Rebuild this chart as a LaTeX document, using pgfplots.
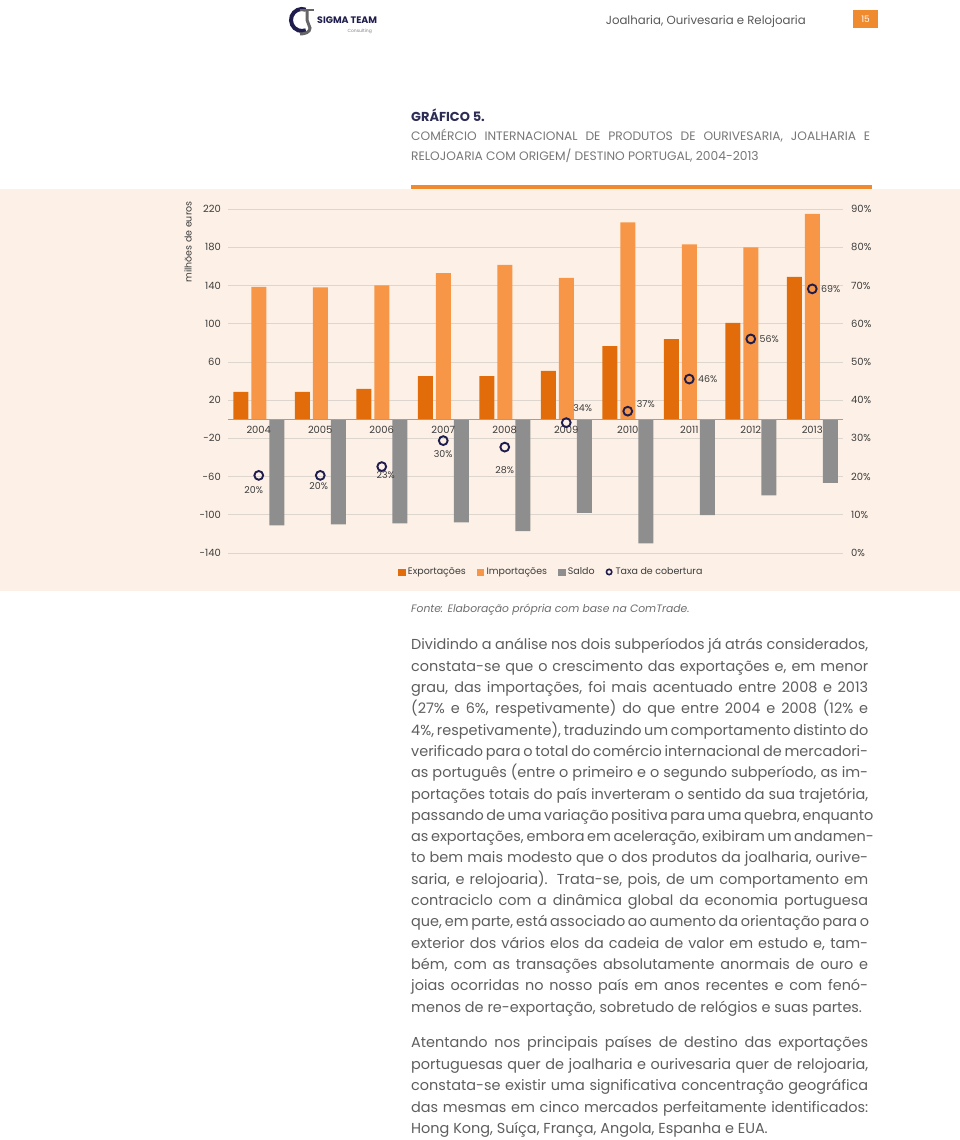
\documentclass[border=0pt]{standalone}
\usepackage{pgfplots}
\pgfplotsset{compat=1.18}
\usepackage{fontspec}
\setmainfont{Poppins}
\definecolor{expc}{HTML}{E36C0A}
\definecolor{impc}{HTML}{F79646}
\definecolor{salc}{HTML}{8E8E8E}
\definecolor{panel}{HTML}{FDF1E7}
\definecolor{navy}{HTML}{1F1D4D}
\definecolor{txt}{HTML}{3C3C3C}
\definecolor{bodyc}{HTML}{5E5E5E}
\definecolor{rulec}{HTML}{F08A2E}
\definecolor{gridc}{HTML}{DDD6CF}
\newcommand\bodyfont{\fontsize{14.5}{21.3}\selectfont}
\newcommand\BL[2]{\node[anchor=base west, inner sep=0pt, font=\bodyfont, text=bodyc] at (411,#1) {\makebox[457bp][s]{#2}};}
\newcommand\BLL[2]{\node[anchor=base west, inner sep=0pt, font=\bodyfont, text=bodyc] at (411,#1) {#2};}
\begin{document}
\begin{tikzpicture}[x=1bp,y=1bp]
\fill[white] (0,0) rectangle (960,1140);
% header
\draw[navy, line width=4bp] (302,1120) ++(70:11) arc (70:290:11);
\draw[gray!80!black, line width=2.5bp] (300,1130) -- (314,1130);
\draw[gray!80!black, line width=3bp] (307,1130) -- (307,1120) to[out=-90,in=90] (310,1112) to[out=-90,in=0] (300,1106);
\node[anchor=west, inner sep=0pt, font=\bfseries\fontsize{9.5}{11}\selectfont, text=navy] at (317,1120) {SIGMA TEAM};
\node[anchor=east, inner sep=0pt, font=\fontsize{4.5}{5}\selectfont, text=gray] at (372,1109) {Consulting};
\node[anchor=base east, inner sep=0pt, font=\fontsize{11.8}{14}\selectfont, text=txt!85] at (806,1115) {Joalharia, Ourivesaria e Relojoaria};
\fill[rulec] (853,1112) rectangle (878,1130);
\node[font=\fontsize{9}{10}\selectfont, text=white] at (865.5,1121) {15};
% title
\node[anchor=base west, inner sep=0pt, font=\bfseries\fontsize{13}{15}\selectfont, text=navy!85!gray] at (411,1018.5) {GRÁFICO 5.};
\node[anchor=base west, inner sep=0pt, font=\fontsize{12.3}{14}\selectfont, text=txt!70] at (411,999.5) {\makebox[459bp][s]{COMÉRCIO INTERNACIONAL DE PRODUTOS DE OURIVESARIA, JOALHARIA E}};
\node[anchor=base west, inner sep=0pt, font=\fontsize{12.3}{14}\selectfont, text=txt!70] at (411,979.5) {RELOJOARIA COM ORIGEM/ DESTINO PORTUGAL, 2004-2013};
\fill[panel] (0,549) rectangle (960,951);
\draw[rulec, line width=4bp] (411,953) -- (872,953);
\node[rotate=90, font=\fontsize{9.5}{11}\selectfont, text=txt] at (188,898) {milhões de euros};
% left axis: values in millions of euros
\begin{axis}[at={(228bp,587bp)}, anchor=south west, scale only axis,
  width=615bp, height=344bp,
  xmin=-0.5, xmax=9.5, ymin=-140, ymax=220,
  ytick={-140,-100,-60,-20,20,60,100,140,180,220},
  yticklabels={-140,-100,-60,-20,20,60,100,140,180,220},
  xtick=\empty, axis line style={draw=none}, major tick length=0pt,
  ymajorgrids, grid style={gridc, line width=0.7bp},
  yticklabel style={inner sep=0pt, xshift=-7bp, font=\fontsize{10}{12}\selectfont, text=txt},
  ybar=3bp, bar width=15bp, clip=false]
\addplot[fill=expc, draw=none] coordinates {(0,28.6) (1,28.6) (2,31.7) (3,45) (4,45) (5,50.6) (6,76.4) (7,83.8) (8,100.8) (9,149)};
\addplot[fill=impc, draw=none] coordinates {(0,138.5) (1,138) (2,140) (3,153) (4,161.6) (5,148) (6,206) (7,183) (8,179.8) (9,215)};
\addplot[fill=salc, draw=none] coordinates {(0,-111) (1,-110) (2,-109) (3,-108) (4,-117) (5,-98) (6,-130) (7,-100.5) (8,-79.6) (9,-66.7)};
\draw[gray!75, line width=0.8bp] (axis cs:-0.5,0) -- (axis cs:9.5,0);
\node[font=\fontsize{10}{12}\selectfont, text=txt, yshift=-11bp] at (axis cs:0,0) {2004};
\node[font=\fontsize{10}{12}\selectfont, text=txt, yshift=-11bp] at (axis cs:1,0) {2005};
\node[font=\fontsize{10}{12}\selectfont, text=txt, yshift=-11bp] at (axis cs:2,0) {2006};
\node[font=\fontsize{10}{12}\selectfont, text=txt, yshift=-11bp] at (axis cs:3,0) {2007};
\node[font=\fontsize{10}{12}\selectfont, text=txt, yshift=-11bp] at (axis cs:4,0) {2008};
\node[font=\fontsize{10}{12}\selectfont, text=txt, yshift=-11bp] at (axis cs:5,0) {2009};
\node[font=\fontsize{10}{12}\selectfont, text=txt, yshift=-11bp] at (axis cs:6,0) {2010};
\node[font=\fontsize{10}{12}\selectfont, text=txt, yshift=-11bp] at (axis cs:7,0) {2011};
\node[font=\fontsize{10}{12}\selectfont, text=txt, yshift=-11bp] at (axis cs:8,0) {2012};
\node[font=\fontsize{10}{12}\selectfont, text=txt, yshift=-11bp] at (axis cs:9,0) {2013};
\end{axis}
% right axis: coverage rate
\begin{axis}[at={(228bp,587bp)}, anchor=south west, scale only axis,
  width=615bp, height=344bp,
  xmin=-0.5, xmax=9.5, ymin=0, ymax=90,
  ytick={0,10,...,90},
  yticklabels={0\%,10\%,20\%,30\%,40\%,50\%,60\%,70\%,80\%,90\%},
  yticklabel pos=right,
  xtick=\empty, axis line style={draw=none}, major tick length=0pt,
  yticklabel style={inner sep=0pt, xshift=8bp, font=\fontsize{10}{12}\selectfont, text=txt},
  clip=false,
  legend columns=4,
  legend style={draw=none, fill=none, inner sep=0pt, at={(axis description cs:0.2764,-0.0552)}, anchor=west,
    font=\fontsize{9.5}{11}\selectfont, text=txt,
    /tikz/every even column/.append style={column sep=9bp},
    /tikz/every odd column/.append style={column sep=1bp}},
  legend cell align=left]
\addlegendimage{legend image code/.code={\fill[expc] (0,-3.2bp) rectangle (6.4bp,3.2bp);}}
\addlegendentry{Exportações}
\addlegendimage{legend image code/.code={\fill[impc] (0,-3.2bp) rectangle (6.4bp,3.2bp);}}
\addlegendentry{Importações}
\addlegendimage{legend image code/.code={\fill[salc] (0,-3.2bp) rectangle (6.4bp,3.2bp);}}
\addlegendentry{Saldo}
\addlegendimage{legend image code/.code={\draw[navy, line width=1.6bp] (3.2bp,0) circle (2.7bp);}}
\addlegendentry{Taxa de cobertura}
\addplot[only marks, mark=o, mark size=4.4bp, mark options={draw=navy, line width=1.9bp}, forget plot]
  coordinates {(0,20.3) (1,20.3) (2,22.6) (3,29.4) (4,27.7) (5,34.1) (6,37.1) (7,45.5) (8,56.0) (9,69.1)};
\node[font=\fontsize{9.5}{11}\selectfont, text=txt, xshift=-5bp, yshift=-15bp] at (axis cs:0,20.3) {20\%};
\node[font=\fontsize{9.5}{11}\selectfont, text=txt, xshift=-1.5bp, yshift=-11bp] at (axis cs:1,20.3) {20\%};
\node[font=\fontsize{9.5}{11}\selectfont, text=txt, xshift=4bp, yshift=-8bp] at (axis cs:2,22.6) {23\%};
\node[font=\fontsize{9.5}{11}\selectfont, text=txt, yshift=-13bp] at (axis cs:3,29.4) {30\%};
\node[font=\fontsize{9.5}{11}\selectfont, text=txt, yshift=-23bp] at (axis cs:4,27.7) {28\%};
\node[font=\fontsize{9.5}{11}\selectfont, text=txt, xshift=16.5bp, yshift=15bp] at (axis cs:5,34.1) {34\%};
\node[font=\fontsize{9.5}{11}\selectfont, text=txt, xshift=18bp, yshift=7bp] at (axis cs:6,37.1) {37\%};
\node[font=\fontsize{9.5}{11}\selectfont, text=txt, xshift=18.5bp] at (axis cs:7,45.5) {46\%};
\node[font=\fontsize{9.5}{11}\selectfont, text=txt, xshift=18.5bp] at (axis cs:8,56.0) {56\%};
\node[font=\fontsize{9.5}{11}\selectfont, text=txt, xshift=18.5bp] at (axis cs:9,69.1) {69\%};
\end{axis}
% source
\node[anchor=base west, inner sep=0pt, font=\itshape\fontsize{10.8}{13}\selectfont, text=txt!75] at (411,527) {Fonte: Elaboração própria com base na ComTrade.};
% body text
\BL{490}{Dividindo a análise nos dois subperíodos já atrás considerados,}
\BL{468.7}{constata-se que o crescimento das exportações e, em menor}
\BL{447.4}{grau, das importações, foi mais acentuado entre 2008 e 2013}
\BL{426.1}{(27\% e 6\%, respetivamente) do que entre 2004 e 2008 (12\% e}
\BL{404.8}{4\%, respetivamente), traduzindo um comportamento distinto do}
\BL{383.5}{verificado para o total do comércio internacional de mercadori-}
\BL{362.2}{as português (entre o primeiro e o segundo subperíodo, as im-}
\BL{340.9}{portações totais do país inverteram o sentido da sua trajetória,}
\BL{319.6}{passando de uma variação positiva para uma quebra, enquanto}
\BL{298.3}{as exportações, embora em aceleração, exibiram um andamen-}
\BL{277.0}{to bem mais modesto que o dos produtos da joalharia, ourive-}
\BL{255.7}{saria, e relojoaria). Trata-se, pois, de um comportamento em}
\BL{234.4}{contraciclo com a dinâmica global da economia portuguesa}
\BL{213.1}{que, em parte, está associado ao aumento da orientação para o}
\BL{191.8}{exterior dos vários elos da cadeia de valor em estudo e, tam-}
\BL{170.5}{bém, com as transações absolutamente anormais de ouro e}
\BL{149.2}{joias ocorridas no nosso país em anos recentes e com fenó-}
\BLL{127.9}{menos de re-exportação, sobretudo de relógios e suas partes.}
\BL{92}{Atentando nos principais países de destino das exportações}
\BL{70.5}{portuguesas quer de joalharia e ourivesaria quer de relojoaria,}
\BL{49}{constata-se existir uma significativa concentração geográfica}
\BL{27.5}{das mesmas em cinco mercados perfeitamente identificados:}
\BLL{6}{Hong Kong, Suíça, França, Angola, Espanha e EUA.}
\pgfresetboundingbox
\useasboundingbox (0,0) rectangle (960,1140);
\end{tikzpicture}
\end{document}
